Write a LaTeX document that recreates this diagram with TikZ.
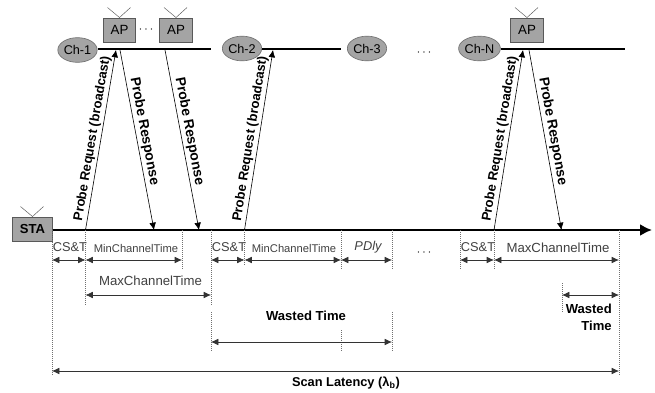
\documentclass[tikz,border=0pt]{standalone}
\usepackage{fontspec}
\setmainfont{Liberation Sans}
\usetikzlibrary{arrows.meta,shapes.geometric}
\definecolor{boxgray}{HTML}{A4A4A4}
\definecolor{labelgray}{HTML}{404040}
\definecolor{tickgray}{HTML}{707070}

\begin{document}
\begin{tikzpicture}[
    x=0.75pt, y=-0.75pt,
    >={Latex[length=5.5pt,width=5pt]},
    station/.style={draw=black!65, line width=0.7pt, fill=boxgray, minimum width=24.5pt, minimum height=18pt, inner sep=0pt, font=\fontsize{10}{12}\selectfont},
    channel/.style={ellipse, draw=black!55, line width=0.5pt, fill=boxgray, minimum width=29.5pt, minimum height=18.5pt, inner sep=0pt, font=\fontsize{9.5}{11}\selectfont},
    antenna/.style={draw=black!65, line width=0.35pt},
    chline/.style={draw, line width=1pt},
    probe/.style={->, line width=0.45pt},
    probelabel/.style={sloped, above, inner sep=1.5pt, font=\fontsize{9.8}{11}\selectfont\bfseries},
    tick/.style={draw=tickgray, line width=0.5pt, densely dotted},
    span/.style={<->, line width=0.5pt, draw=black!80},
    timelabel/.style={text=labelgray, inner sep=0pt, font=\fontsize{9.9}{12}\selectfont},
    smalllabel/.style={text=labelgray, inner sep=0pt, font=\fontsize{8.4}{10}\selectfont},
    boldlabel/.style={inner sep=0pt, align=right, font=\fontsize{9.8}{12.6}\selectfont\bfseries},
]
    \useasboundingbox (0,0) rectangle (655,392);

    % stations
    \node[station, minimum width=30pt, font=\fontsize{9.8}{12}\selectfont\bfseries] (sta) at (32.5,229) {STA};
    \node[station] (ap1) at (119.5,30) {AP};
    \node[station] (ap2) at (176,30) {AP};
    \node[station] (ap3) at (527,30) {AP};
    \node[inner sep=0pt, font=\fontsize{9}{10}\selectfont] (apdots) at (146,30) {$\cdots$};

    % antennas
    \foreach \st in {sta, ap1, ap2, ap3} {
        \coordinate (\st-l) at ([shift={(-12,-10)}]\st.north);
        \coordinate (\st-r) at ([shift={(11,-10)}]\st.north);
        \draw[antenna] (\st-l) -- (\st.north) -- (\st-r);
    }

    % channels
    \node[channel] (ch1) at (77.5,50) {Ch-1};
    \node[channel] (ch2) at (242,48.5) {Ch-2};
    \node[channel] (ch3) at (367,48.5) {Ch-3};
    \node[channel] (chn) at (479.5,48.5) {Ch-N};
    \node[inner sep=0pt, font=\fontsize{9}{10}\selectfont] (chdots) at (424,53) {$\cdots$};
    \coordinate (end1) at (211,49);
    \coordinate (end2) at (341,49);
    \coordinate (endn) at (625,49);
    \draw[chline] (ch1.east |- end1) -- (end1);
    \draw[chline] (ch2.east |- end2) -- (end2);
    \draw[chline] (chn.east |- endn) -- (endn);

    % time axis
    \coordinate (axis) at (652,230);
    \draw[line width=1.6pt, -{Latex[length=9pt,width=9pt]}] (sta.east |- axis) -- (axis);

    \foreach \tk/\x in {a/52, b/85.5, c/182, d/211, e/244.5, f/341, g/392, h/460, i/494, j/562, k/619} {
        \coordinate (\tk) at (\x,230);
    }

    \coordinate (req1) at (116,50);
    \coordinate (req2) at (273,50);
    \coordinate (reqn) at (523,50);
    \coordinate (res1) at (120,50);
    \coordinate (res2) at (165,50);
    \coordinate (res3) at (529,50);
    \coordinate (hit1) at (154,230);
    \coordinate (hit2) at (199,230);
    \coordinate (hit3) at (561.5,230);

    \draw[probe] (b) -- node[probelabel] {Probe Request (broadcast)} (req1);
    \draw[probe] (e) -- node[probelabel] {Probe Request (broadcast)} (req2);
    \draw[probe] (i) -- node[probelabel] {Probe Request (broadcast)} (reqn);
    \draw[probe] (res1) -- node[probelabel, pos=0.46, font=\fontsize{10.4}{12}\selectfont\bfseries] {Probe Response} (hit1);
    \draw[probe] (res2) -- node[probelabel, pos=0.46, font=\fontsize{10.4}{12}\selectfont\bfseries] {Probe Response} (hit2);
    \draw[probe] (res3) -- node[probelabel, pos=0.46, font=\fontsize{10.4}{12}\selectfont\bfseries] {Probe Response} (hit3);

    % dotted ticks
    \foreach \tk/\len in {a/375, b/305, c/270, d/305, e/265, f/270, g/270, h/270, i/270, k/375} {
        \draw[tick] (\tk) -- (\tk |- 0,\len);
    }
    \foreach \tk/\from/\to in {d/312/352, f/330/352, g/312/352, j/283/312} {
        \draw[tick] (\tk |- 0,\from) -- (\tk |- 0,\to);
    }

    % spans
    \foreach \from/\to in {a/b, b/c, d/e, e/f, f/g, h/i, i/k} {
        \draw[span] (\from |- 0,260) -- (\to |- 0,260);
    }
    \draw[span] (b |- 0,295) -- (d |- 0,295);
    \draw[span] (j |- 0,295) -- (k |- 0,295);
    \draw[span] (d |- 0,342) -- (g |- 0,342);
    \draw[span] (a |- 0,371) -- (k |- 0,371);

    % labels
    \node[timelabel, font=\fontsize{9.6}{12}\selectfont] (cst1) at (70,247) {CS\&T};
    \node[timelabel, font=\fontsize{9.6}{12}\selectfont] (cst2) at (229,247) {CS\&T};
    \node[timelabel, font=\fontsize{9.6}{12}\selectfont] (cst3) at (478,247) {CS\&T};
    \node[smalllabel] (min1) at (136,248) {MinChannelTime};
    \node[smalllabel] (min2) at (294,248) {MinChannelTime};
    \node[timelabel, font=\fontsize{9.6}{12}\selectfont\itshape] (pdly) at (368,247.5) {PDly};
    \node[inner sep=0pt, font=\fontsize{9}{10}\selectfont] (gapdots) at (424,253) {$\cdots$};
    \node[timelabel] (max1) at (150.5,281) {MaxChannelTime};
    \node[timelabel] (max2) at (558,248) {MaxChannelTime};
    \node[boldlabel] (waste1) at (306,316) {Wasted Time};
    \node[boldlabel, anchor=north east] (waste2) at (612,304) {Wasted\\Time};
    \node[boldlabel, font=\fontsize{9.6}{12.6}\selectfont\bfseries] (scan) at (346,383) {Scan Latency (λ\textsubscript{b})};
\end{tikzpicture}
\end{document}
